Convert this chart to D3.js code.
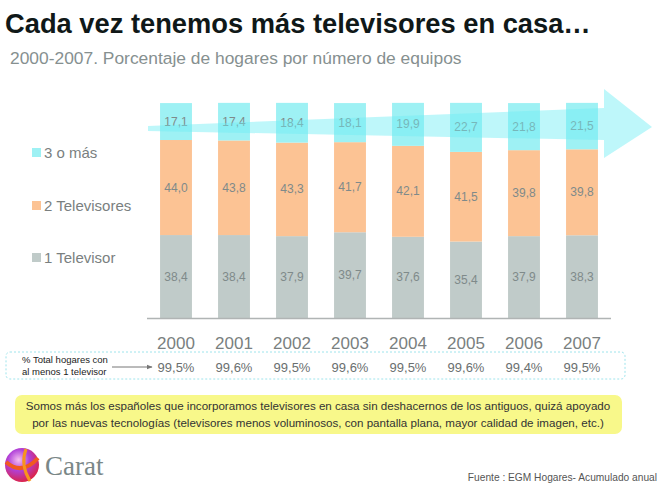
<!DOCTYPE html>
<html><head><meta charset="utf-8">
<script src="https://cdn.jsdelivr.net/npm/d3@7"></script>
<style>html,body{margin:0;padding:0;background:#fff;}svg{display:block;font-family:"Liberation Sans",Arial,sans-serif;}</style>
</head><body>
<script>
const years = ["2000","2001","2002","2003","2004","2005","2006","2007"];
const seriesNames = ["1 Televisor","2 Televisores","3 o más"];
const oneTV = [38.4,38.4,37.9,39.7,37.6,35.4,37.9,38.3];
const twoTV = [44.0,43.8,43.3,41.7,42.1,41.5,39.8,39.8];
const threeTV = [17.1,17.4,18.4,18.1,19.9,22.7,21.8,21.5];
const totalLabels = ["99,5%","99,6%","99,5%","99,6%","99,5%","99,6%","99,4%","99,5%"];
const colors = ["#c0cbc9","#fcc394","#9ef1f4"];

const W=663,H=500;
const svg=d3.select("body").append("svg").attr("width",W).attr("height",H);

// titles
svg.append("text").attr("x",5).attr("y",33).attr("font-size",27.3).attr("font-weight","bold").attr("fill","#101818")
  .text("Cada vez tenemos más televisores en casa…");
svg.append("text").attr("x",10).attr("y",64).attr("font-size",17.4).attr("fill","#869090")
  .text("2000-2007. Porcentaje de hogares por número de equipos");

const x=d3.scaleBand().domain(years).range([147,611]).paddingInner(0.45).paddingOuter(0.225);
const y=d3.scaleLinear().domain([0,100]).range([318,102]);

const rows=years.map((yr,i)=>({year:yr,"1 Televisor":oneTV[i],"2 Televisores":twoTV[i],"3 o más":threeTV[i]}));
const stack=d3.stack().keys(seriesNames)(rows);

const g=svg.append("g");
g.selectAll("g.s").data(stack).join("g").attr("fill",(d,i)=>colors[i])
  .selectAll("rect").data(d=>d).join("rect")
  .attr("x",d=>x(d.data.year)).attr("width",x.bandwidth())
  .attr("y",d=>y(d[1])).attr("height",d=>y(d[0])-y(d[1]));

// baseline
svg.append("line").attr("x1",147).attr("x2",611).attr("y1",y(0)+0.5).attr("y2",y(0)+0.5).attr("stroke","#b0b4b4").attr("stroke-width",1.5);

// trend arrow (decorative)
const x0=x.range()[0]+1, xh=604, xt=652;
svg.append("path")
  .attr("d",`M${x0},126 L${xh},108 L${xh},89 L${xt},127 L${xh},158 L${xh},140 L${x0},131 Z`)
  .attr("fill","#6eeef5").attr("fill-opacity",0.45);

// value labels
g.selectAll("g.l").data(stack).join("g")
  .selectAll("text").data(d=>d).join("text")
  .attr("x",d=>x(d.data.year)+x.bandwidth()/2)
  .attr("y",d=>(y(d[0])+y(d[1]))/2+4)
  .attr("text-anchor","middle").attr("font-size",12).attr("fill","#7f8a8a")
  .text(d=>(d[1]-d[0]).toFixed(1).replace(".",","));

// legend
const legY=[258,206,153];
seriesNames.forEach((n,i)=>{
  svg.append("rect").attr("x",32).attr("y",legY[i]-5).attr("width",9).attr("height",9).attr("fill",colors[i]);
  svg.append("text").attr("x",44).attr("y",legY[i]+5).attr("font-size",15).attr("fill","#7a7f7f").text(n);
});

// years axis labels
svg.append("g").selectAll("text").data(years).join("text")
  .attr("x",d=>x(d)+x.bandwidth()/2).attr("y",349).attr("text-anchor","middle")
  .attr("font-size",17).attr("fill","#7a7f7f").text(d=>d);

// totals box
svg.append("rect").attr("x",6).attr("y",352).attr("width",619).attr("height",27).attr("rx",4)
  .attr("fill","none").attr("stroke","#9ee4ec").attr("stroke-width",1).attr("stroke-dasharray","2,2");
svg.append("text").attr("x",22).attr("y",363).attr("font-size",9.5).attr("fill","#222").text("% Total hogares con");
svg.append("text").attr("x",22).attr("y",375).attr("font-size",9.5).attr("fill","#222").text("al menos 1 televisor");
svg.append("defs").append("marker").attr("id","ah").attr("viewBox","0 0 10 10").attr("refX",9).attr("refY",5)
  .attr("markerWidth",6).attr("markerHeight",6).attr("orient","auto")
  .append("path").attr("d","M0,1 L10,5 L0,9 Z").attr("fill","#777");
svg.append("line").attr("x1",112).attr("x2",152).attr("y1",367).attr("y2",367).attr("stroke","#777").attr("stroke-width",1).attr("marker-end","url(#ah)");
svg.append("g").selectAll("text").data(totalLabels).join("text")
  .attr("x",(d,i)=>x(years[i])+x.bandwidth()/2).attr("y",372).attr("text-anchor","middle")
  .attr("font-size",13).attr("fill","#6a6f6f").text(d=>d);

// note box
svg.append("rect").attr("x",15).attr("y",395).attr("width",607).attr("height",39).attr("rx",7).attr("fill","#f8f88a");
svg.append("text").attr("x",318).attr("y",410).attr("text-anchor","middle").attr("font-size",11.6).attr("fill","#333")
  .text("Somos más los españoles que incorporamos televisores en casa sin deshacernos de los antiguos, quizá apoyado");
svg.append("text").attr("x",318).attr("y",427).attr("text-anchor","middle").attr("font-size",11.6).attr("fill","#333")
  .text("por las nuevas tecnologías (televisores menos voluminosos, con pantalla plana, mayor calidad de imagen, etc.)");

// logo
const defs=svg.select("defs");
const lg=defs.append("radialGradient").attr("id","ball").attr("cx","40%").attr("cy","35%").attr("r","70%");
lg.append("stop").attr("offset","0%").attr("stop-color","#f6c0f0");
lg.append("stop").attr("offset","45%").attr("stop-color","#b040d8");
lg.append("stop").attr("offset","100%").attr("stop-color","#e0203a");
svg.append("circle").attr("cx",22).attr("cy",465).attr("r",17).attr("fill","url(#ball)");
svg.append("path").attr("d","M6,462 Q22,476 38,458").attr("fill","none").attr("stroke","#f05a20").attr("stroke-width",4);
svg.append("path").attr("d","M26,449 Q20,465 30,481").attr("fill","none").attr("stroke","#f7941d").attr("stroke-width",3);
svg.append("text").attr("x",45).attr("y",475).attr("font-size",27).attr("font-family","Liberation Serif, serif").attr("fill","#7a8787").text("Carat");

// footer
svg.append("text").attr("x",657).attr("y",481).attr("text-anchor","end").attr("font-size",10.2).attr("fill","#555")
  .text("Fuente : EGM Hogares- Acumulado anual");
</script>
</body></html>
